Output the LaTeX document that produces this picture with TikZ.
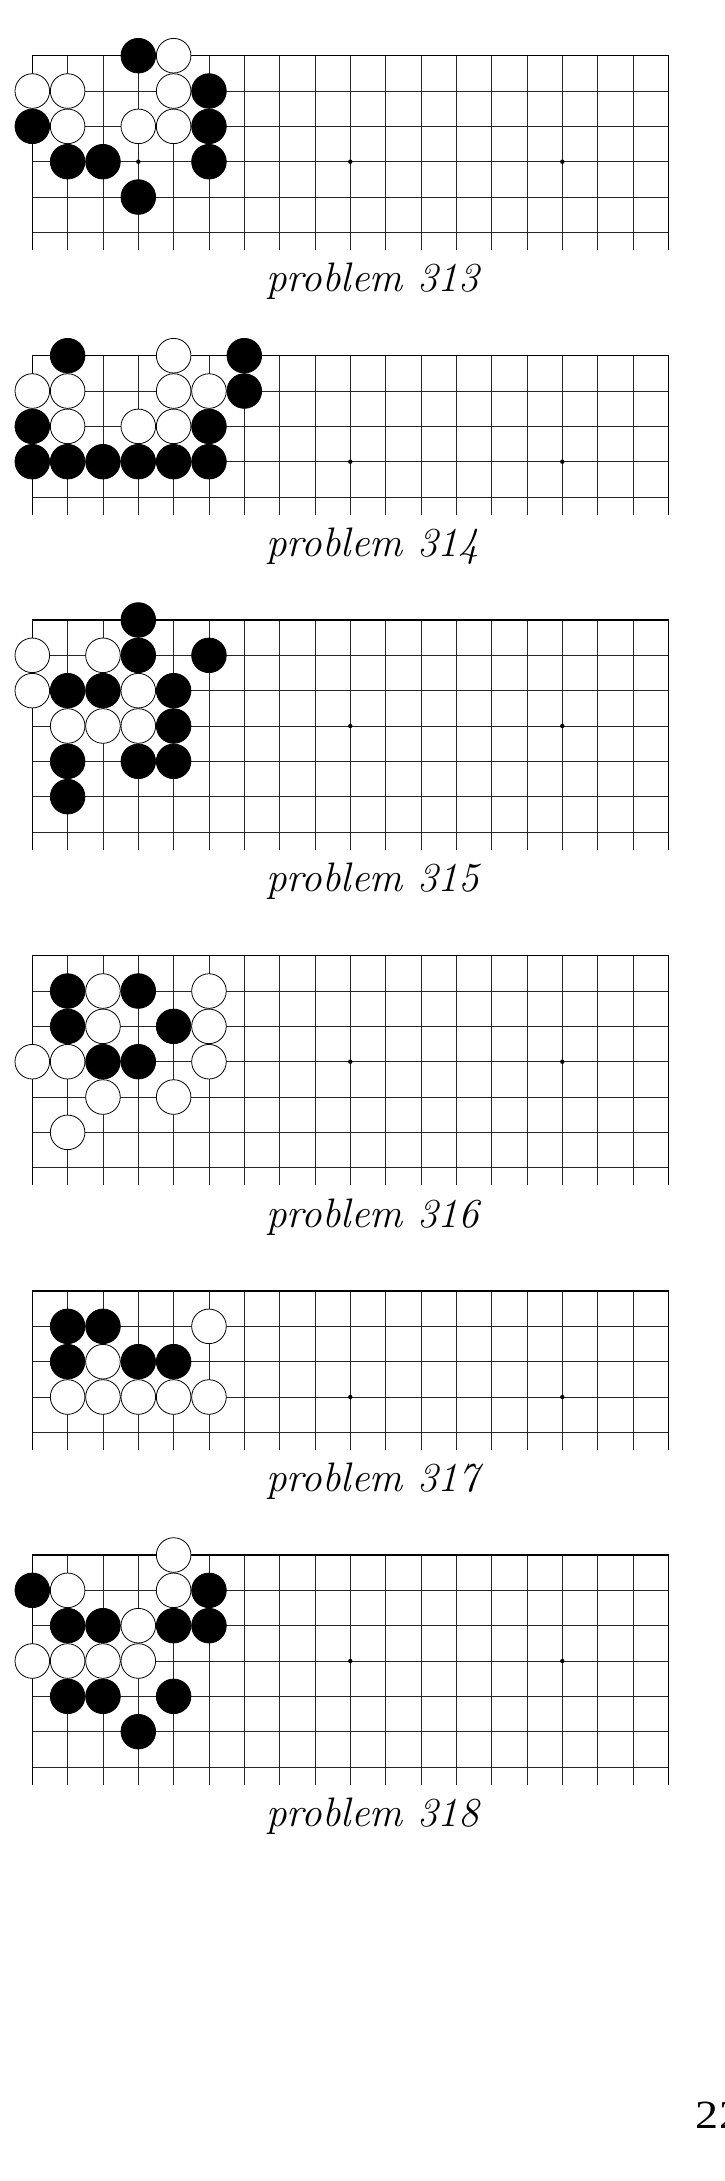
\documentclass[tikz,border=0pt]{standalone}
\usepackage{fontspec}
\newfontfamily\pagenumfont{Liberation Serif}
\tikzset{
  gridline/.style={line width=0.8pt, black!85},
  edgeline/.style={line width=1.2pt, black},
  bstone/.style={fill=black, draw=black, line width=0.8pt},
  wstone/.style={fill=white, draw=black, line width=0.8pt},
  starpt/.style={fill=black},
  probcaption/.style={font=\fontsize{41.2}{48}\selectfont\itshape, anchor=base, inner sep=0pt},
  pagenum/.style={font=\pagenumfont\fontsize{40}{48}\selectfont, anchor=base west, inner sep=0pt},
}
\newcommand\GoBoard[5]{% #1 top, #2 rows, #3 caption number, #4 black list, #5 white list
  \pgfmathsetmacro\gbBot{#1+(#2-1)*35.333+17.7}
  \foreach \i in {1,...,17} \draw[gridline] ({32.3+\i*35.333},#1) -- ({32.3+\i*35.333},\gbBot);
  \foreach \j in {1,...,\the\numexpr#2-1\relax} \draw[gridline] (32.3,{#1+\j*35.333}) -- (668.3,{#1+\j*35.333});
  \draw[edgeline] (32.3,\gbBot) -- (32.3,#1) -- (668.3,#1) -- (668.3,\gbBot);
  \foreach \c in {3,9,15} \fill[starpt] ({32.3+\c*35.333},{#1+3*35.333}) circle[radius=2.2];
  \foreach \c/\r in {#4} \filldraw[bstone] ({32.3+\c*35.333},{#1+\r*35.333}) circle[radius=17.3];
  \foreach \c/\r in {#5} \filldraw[wstone] ({32.3+\c*35.333},{#1+\r*35.333}) circle[radius=17.3];
  \node[probcaption] (cap#3) at (372.5,{\gbBot+41.7}) {problem #3};
}
\begin{document}
\begin{tikzpicture}[x=1pt,y=-1pt]
  \useasboundingbox (0,0) rectangle (724,2181);
  \clip (0,0) rectangle (724,2181);
  \fill[white] (0,0) rectangle (724,2181);
  \GoBoard{55.7}{6}{313}{3/0,5/1,0/2,5/2,1/3,2/3,5/3,3/4}{4/0,0/1,1/1,4/1,1/2,3/2,4/2}
  \GoBoard{355.7}{5}{314}{1/0,6/0,6/1,0/2,5/2,0/3,1/3,2/3,3/3,4/3,5/3}{4/0,0/1,1/1,4/1,5/1,1/2,3/2,4/2}
  \GoBoard{620}{7}{315}{3/0,3/1,5/1,1/2,2/2,4/2,4/3,1/4,3/4,4/4,1/5}{0/1,2/1,0/2,3/2,1/3,2/3,3/3}
  \GoBoard{955.7}{7}{316}{1/1,3/1,1/2,4/2,2/3,3/3}{2/1,5/1,2/2,5/2,0/3,1/3,5/3,2/4,4/4,1/5}
  \GoBoard{1291}{5}{317}{1/1,2/1,1/2,3/2,4/2}{5/1,2/2,1/3,2/3,3/3,4/3,5/3}
  \GoBoard{1555}{7}{318}{0/1,5/1,1/2,2/2,4/2,5/2,1/4,2/4,4/4,3/5}{4/0,1/1,4/1,3/2,0/3,1/3,2/3,3/3}
  \node[pagenum, xscale=1.15] (page) at (695,2128) {2\kern1pt 2};
\end{tikzpicture}
\end{document}
